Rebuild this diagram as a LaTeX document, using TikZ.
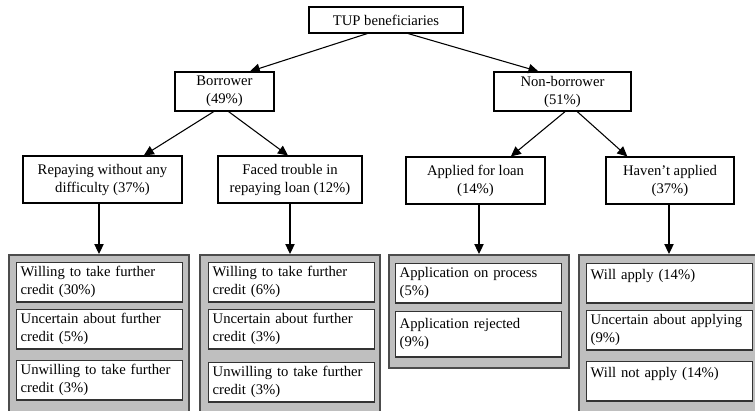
\documentclass[tikz,border=0pt]{standalone}
\usepackage{fontspec}
\setmainfont{Liberation Serif}
\usetikzlibrary{arrows.meta}

\tikzset{
  box/.style={draw,line width=0.8pt,fill=white,align=center,inner sep=1pt},
  panel/.style={draw=black!70,line width=1.5pt,fill=black!25,inner sep=0pt},
  cell/.style={draw=black!80,line width=1pt,fill=white,anchor=north west,align=left,
    text width=118.5pt,minimum height=29.5pt,inner ysep=1.5pt,inner xsep=3pt},
  arr/.style={-{Triangle[length=7.5pt,width=7pt]},line width=0.8pt},
}

\begin{document}
\begin{tikzpicture}[x=0.75pt,y=-0.75pt,font=\fontsize{11}{13.5}\selectfont]
\useasboundingbox (0,0) rectangle (755,410);
\clip (0,0) rectangle (755,410);
% ---------- tree ----------
\node[box,minimum width=115.5pt,minimum height=19.5pt] (tup) at (386,20) {TUP beneficiaries};
\node[box,minimum width=74.25pt,minimum height=29.25pt] (bor) at (224.5,91.5) {Borrower\\(49\%)};
\node[box,minimum width=102.75pt,minimum height=29.25pt] (nonbor) at (562.5,91.5) {Non-borrower\\(51\%)};
\node[box,minimum width=119.25pt,minimum height=35.25pt] (rep) at (102.5,179.5) {Repaying without any\\difficulty (37\%)};
\node[box,minimum width=108pt,minimum height=35.25pt] (trb) at (290,179.5) {Faced trouble in\\repaying loan (12\%)};
\node[box,minimum width=104.25pt,minimum height=35.25pt] (app) at (475.5,180.5) {Applied for loan\\(14\%)};
\node[box,minimum width=96pt,minimum height=35.25pt] (hav) at (670,180.5) {Haven’t applied\\(37\%)};
% ---------- grey panels ----------
\node[panel,minimum width=135pt,minimum height=131.25pt] (pan1) at (99,342.5) {};
\node[panel,minimum width=135pt,minimum height=131.25pt] (pan2) at (290,342.5) {};
\node[panel,minimum width=135pt,minimum height=84.75pt] (pan3) at (479,311.5) {};
\node[panel,minimum width=135pt,minimum height=131.25pt] (pan4) at (669,342.5) {};
% ---------- cells ----------
\node[cell] (will1) at (16,262) {Willing to take further\\credit (30\%)};
\node[cell] (unc1) at (16,309) {Uncertain about further\\credit (5\%)};
\node[cell] (unw1) at (16,360) {Unwilling to take further\\credit (3\%)};
\node[cell] (will2) at (208,262) {Willing to take further\\credit (6\%)};
\node[cell] (unc2) at (208,309) {Uncertain about further\\credit (3\%)};
\node[cell] (unw2) at (208,362) {Unwilling to take further\\credit (3\%)};
\node[cell] (proc) at (395,263) {Application on process\\(5\%)};
\node[cell,minimum height=34pt] (rej) at (395,311) {Application rejected\\(9\%)};
\node[cell] (wap) at (586,263) {Will apply (14\%)\\\mbox{}};
\node[cell] (uap) at (586,310) {Uncertain about applying\\(9\%)};
\node[cell] (nap) at (586,361) {Will not apply (14\%)\\\mbox{}};
% ---------- arrows ----------
\draw[arr] ([xshift=-14pt]tup.south) -- ([xshift=19pt]bor.north);
\draw[arr] ([xshift=16.5pt]tup.south) -- ([xshift=-18pt]nonbor.north);
\draw[arr] ([xshift=-8pt]bor.south) -- ([xshift=31pt]rep.north);
\draw[arr] ([xshift=3pt]bor.south) -- ([xshift=-1.5pt]trb.north);
\draw[arr] ([xshift=2pt]nonbor.south) -- ([xshift=26.5pt]app.north);
\draw[arr] ([xshift=11pt]nonbor.south) -- ([xshift=-32pt]hav.north);
\draw[arr] (rep.south -| pan1.north) -- (pan1.north);
\draw[arr] (trb.south -| pan2.north) -- (pan2.north);
\draw[arr] (app.south -| pan3.north) -- (pan3.north);
\draw[arr] (hav.south -| pan4.north) -- (pan4.north);
\end{tikzpicture}
\end{document}
